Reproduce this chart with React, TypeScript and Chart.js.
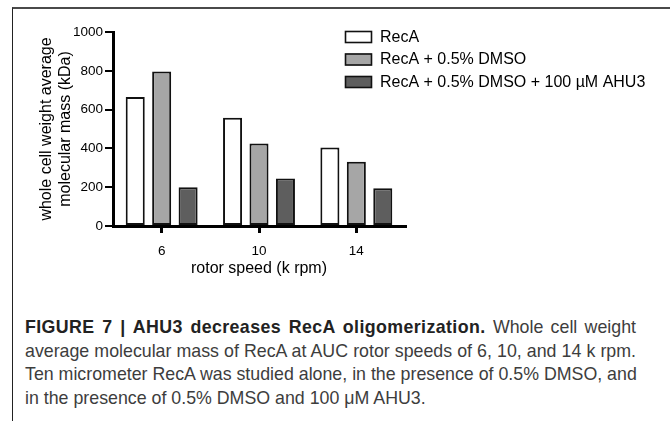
import React, { useEffect, useRef } from "react";
import { Chart, registerables } from "chart.js";

Chart.register(...registerables);

const categories = ["6", "10", "14"];
const seriesLabels = ["RecA", "RecA + 0.5% DMSO", "RecA + 0.5% DMSO + 100 µM AHU3"];
const recA = [665, 558, 405];
const recADmso = [796, 425, 331];
const recADmsoAhu3 = [200, 245, 194];
const seriesColors = ["#ffffff", "#a6a6a6", "#5e5e5e"];
const yTicks = [0, 200, 400, 600, 800, 1000];

const FONT = "'Liberation Sans', Arial, Helvetica, sans-serif";

const legendPlugin = {
  id: "boxLegend",
  afterDraw(chart: any) {
    const ctx = chart.ctx;
    ctx.save();
    ctx.font = `16px ${FONT}`;
    ctx.textBaseline = "middle";
    chart.data.datasets.forEach((ds: any, i: number) => {
      const cy = 37 + i * 22.5;
      ctx.fillStyle = ds.backgroundColor;
      ctx.fillRect(345, cy - 6, 27, 12);
      ctx.lineWidth = 1.6;
      ctx.strokeStyle = "#111";
      ctx.strokeRect(345.5, cy - 5.5, 26, 11);
      ctx.fillStyle = "#000";
      ctx.fillText(ds.label, 380, cy + 0.5);
    });
    ctx.restore();
  },
};

const lineStyle: React.CSSProperties = {
  width: 611,
  whiteSpace: "nowrap",
  textAlign: "justify",
  textAlignLast: "justify",
  height: 23.5,
};

export default function App() {
  const ref = useRef<HTMLCanvasElement>(null);
  useEffect(() => {
    if (!ref.current) return;
    const values = [recA, recADmso, recADmsoAhu3];
    const chart = new Chart(ref.current, {
      type: "bar",
      data: {
        labels: categories,
        datasets: values.map((v, i) => ({
          label: seriesLabels[i],
          data: v,
          backgroundColor: seriesColors[i],
          borderColor: "#111",
          borderWidth: 2,
          borderSkipped: false,
          categoryPercentage: 0.815,
          barPercentage: 0.72,
        })),
      },
      options: {
        responsive: false,
        animation: false,
        devicePixelRatio: 1,
        layout: { padding: { left: 30, top: 32, right: 265, bottom: 0 } },
        plugins: { legend: { display: false }, tooltip: { enabled: false } },
        scales: {
          x: {
            offset: true,
            afterFit: (s: any) => {
              s.height = 64;
            },
            grid: {
              offset: false,
              drawOnChartArea: false,
              drawTicks: true,
              tickLength: 7,
              lineWidth: 3,
              color: "#000",
            },
            border: { display: true, color: "#000", width: 3 },
            ticks: { color: "#000", font: { family: FONT, size: 13.5 }, padding: 10 },
            title: {
              display: true,
              text: "rotor speed (k rpm)",
              color: "#000",
              font: { family: FONT, size: 16, lineHeight: "19px" },
              padding: { top: 0, bottom: 12 },
            },
          },
          y: {
            min: 0,
            max: 1000,
            afterFit: (s: any) => {
              s.width = 83;
            },
            afterBuildTicks: (s: any) => {
              s.ticks = yTicks.map((v) => ({ value: v }));
            },
            grid: {
              drawOnChartArea: false,
              drawTicks: true,
              tickLength: 8,
              lineWidth: 2,
              color: "#000",
            },
            border: { display: true, color: "#000", width: 3 },
            ticks: {
              color: "#000",
              font: { family: FONT, size: 13.5 },
              padding: 2,
              callback: (v: any) => String(v),
            },
            title: {
              display: true,
              text: ["whole cell weight average", "molecular mass (kDa)"],
              color: "#000",
              font: { family: FONT, size: 16, lineHeight: "19.5px" },
              padding: { top: 6.5, bottom: 0 },
            },
          },
        },
      },
      plugins: [legendPlugin],
    });
    return () => chart.destroy();
  }, []);

  return (
    <div style={{ position: "absolute", left: 0, top: 0, width: 670, height: 421, background: "#fff", overflow: "hidden" }}>
      <div
        style={{
          position: "absolute",
          left: 12,
          top: 7,
          width: 670,
          height: 430,
          borderTop: "2px solid #4a4a4a",
          borderLeft: "1px solid #222",
        }}
      />
      <canvas ref={ref} width={670} height={290} style={{ position: "absolute", left: 0, top: 0, display: "block" }} />
      <div
        style={{
          position: "absolute",
          left: 25,
          top: 316,
          fontFamily: FONT,
          fontSize: 17.8,
          lineHeight: "23.5px",
          color: "#3d3d3d",
        }}
      >
        <div style={lineStyle}>
          <span style={{ fontWeight: "bold", color: "#222", letterSpacing: "0.4px" }}>
            FIGURE 7 | AHU3 decreases RecA oligomerization.
          </span>{" "}
          Whole cell weight
        </div>
        <div style={lineStyle}>average molecular mass of RecA at AUC rotor speeds of 6, 10, and 14 k rpm.</div>
        <div style={lineStyle}>Ten micrometer RecA was studied alone, in the presence of 0.5% DMSO, and</div>
        <div style={{ whiteSpace: "nowrap", height: 23.5 }}>in the presence of 0.5% DMSO and 100 μM AHU3.</div>
      </div>
    </div>
  );
}
